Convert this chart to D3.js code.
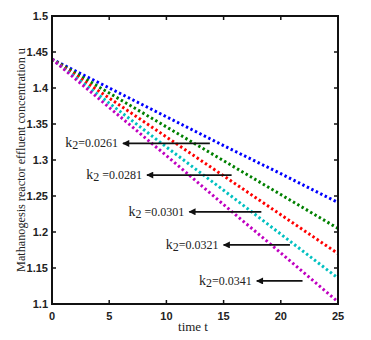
<!DOCTYPE html>
<html><head><meta charset="utf-8">
<script src="https://cdn.jsdelivr.net/npm/d3@7"></script>
<style>body{margin:0;background:#fff}svg{display:block}</style>
</head><body>
<svg id="c" width="371" height="340"></svg>
<script>
const times = [0, 5, 10, 15, 20, 25];
const seriesK2 = ["0.0261", "0.0281", "0.0301", "0.0321", "0.0341"];
const uK0261 = [1.440, 1.400, 1.360, 1.320, 1.281, 1.241];
const uK0281 = [1.440, 1.393, 1.346, 1.299, 1.252, 1.205];
const uK0301 = [1.440, 1.386, 1.332, 1.278, 1.224, 1.170];
const uK0321 = [1.440, 1.379, 1.318, 1.258, 1.197, 1.136];
const uK0341 = [1.440, 1.373, 1.306, 1.238, 1.171, 1.103];
const colors = ["#0000ff", "#008000", "#ff0000", "#00c0c0", "#c000c0"];
const xTicks = [0, 5, 10, 15, 20, 25];
const yTicks = [1.1, 1.15, 1.2, 1.25, 1.3, 1.35, 1.4, 1.45, 1.5];
// annotation: arrow tail time, arrow tip time, u level
const annTail = [13.8, 15.7, 18.3, 20.8, 21.9];
const annTip = [6.2, 8.3, 12.0, 15.0, 17.9];
const annU = [1.323, 1.279, 1.228, 1.182, 1.132];
const ySpaced = [false, true, true, false, false];

const svg = d3.select("#c");
const L = 52, R = 338, T = 16, B = 304;
const x = d3.scaleLinear().domain([0, 25]).range([L, R]);
const y = d3.scaleLinear().domain([1.1, 1.5]).range([B, T]);

const data = [uK0261, uK0281, uK0301, uK0321, uK0341];
const line = d3.line().x((d, i) => x(times[i])).y(d => y(d));

data.forEach((s, k) => {
  svg.append("path").attr("d", line(s)).attr("fill", "none")
    .attr("stroke", colors[k]).attr("stroke-width", 3)
    .attr("stroke-dasharray", "2.4 2.6").attr("stroke-linecap", "butt");
});

const ax = svg.append("g").attr("font-family", "Arial, Liberation Sans, sans-serif")
  .attr("font-weight", "bold").attr("font-size", 11);
svg.append("rect").attr("x", L).attr("y", T).attr("width", R - L).attr("height", B - T)
  .attr("fill", "none").attr("stroke", "#111").attr("stroke-width", 2);
xTicks.forEach(t => {
  svg.append("line").attr("x1", x(t)).attr("x2", x(t)).attr("y1", B).attr("y2", B - 4).attr("stroke", "#111").attr("stroke-width", 1.5);
  svg.append("line").attr("x1", x(t)).attr("x2", x(t)).attr("y1", T).attr("y2", T + 4).attr("stroke", "#111").attr("stroke-width", 1.5);
  ax.append("text").attr("x", x(t)).attr("y", B + 16).attr("text-anchor", "middle")
    .attr("fill", "#222").text(t);
});
yTicks.forEach(v => {
  svg.append("line").attr("x1", L).attr("x2", L + 4).attr("y1", y(v)).attr("y2", y(v)).attr("stroke", "#111").attr("stroke-width", 1.5);
  svg.append("line").attr("x1", R).attr("x2", R - 4).attr("y1", y(v)).attr("y2", y(v)).attr("stroke", "#111").attr("stroke-width", 1.5);
  ax.append("text").attr("x", L - 4).attr("y", y(v) + 4).attr("text-anchor", "end")
    .attr("fill", "#222").text(+v.toFixed(2));
});

svg.append("text").attr("x", 193).attr("y", 331).attr("text-anchor", "middle")
  .attr("font-family", "Liberation Serif, Times New Roman, serif").attr("font-size", 13)
  .attr("fill", "#222").text("time t");
svg.append("text").attr("transform", "translate(25,160) rotate(-90)").attr("text-anchor", "middle")
  .attr("font-family", "Liberation Serif, Times New Roman, serif").attr("font-size", 12.2)
  .attr("fill", "#222").text("Mathanogesis reactor effluent concentration u");

svg.append("defs").append("marker").attr("id", "ah").attr("viewBox", "0 0 10 10")
  .attr("refX", 9).attr("refY", 5).attr("markerWidth", 9).attr("markerHeight", 7)
  .attr("markerUnits", "userSpaceOnUse").attr("orient", "auto")
  .append("path").attr("d", "M0,0 L10,5 L0,10 Z").attr("fill", "#111");

seriesK2.forEach((k, i) => {
  const yy = y(annU[i]);
  svg.append("line").attr("x1", x(annTail[i])).attr("x2", x(annTip[i]))
    .attr("y1", yy).attr("y2", yy).attr("stroke", "#111").attr("stroke-width", 1.8)
    .attr("marker-end", "url(#ah)");
  const t = svg.append("text").attr("x", x(annTip[i]) - 5).attr("y", yy + 4)
    .attr("text-anchor", "end").attr("font-family", "Liberation Serif, Times New Roman, serif")
    .attr("font-size", 12).attr("fill", "#222");
  t.append("tspan").attr("font-size", 14).text("k");
  t.append("tspan").attr("dy", 2).text("2");
  t.append("tspan").attr("dy", -2).text((ySpaced[i] ? " " : "") + "=" + k);
});
</script>
</body></html>
